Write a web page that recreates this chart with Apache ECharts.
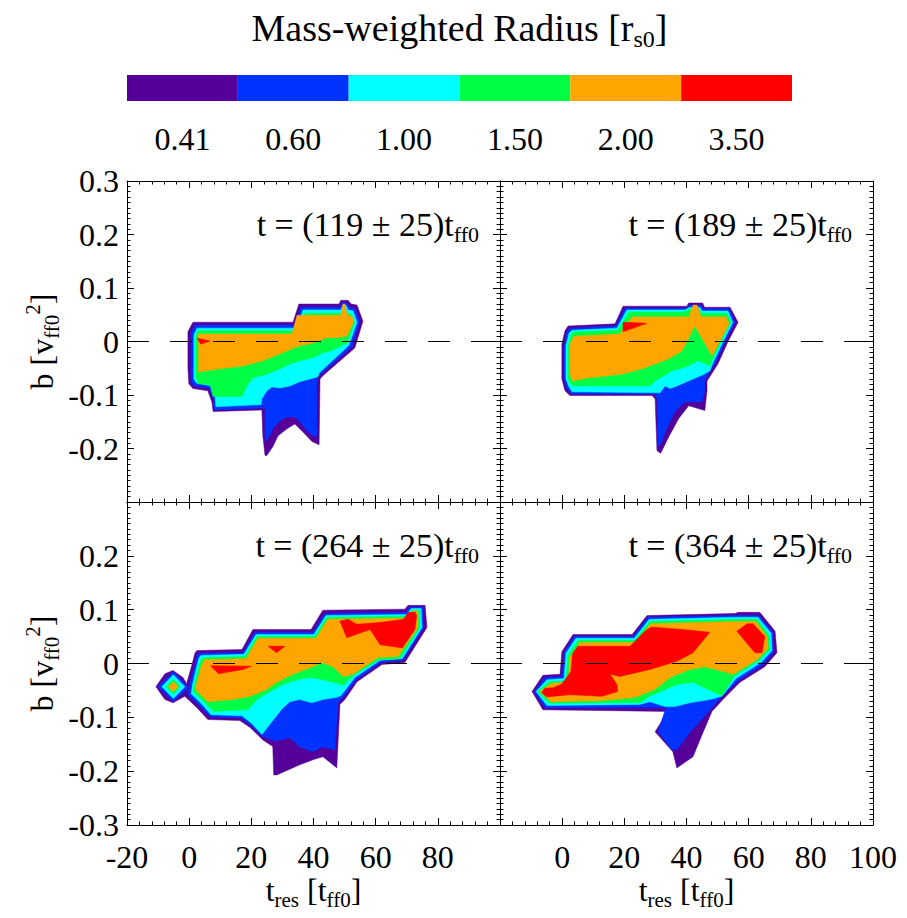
<!DOCTYPE html>
<html><head><meta charset="utf-8">
<script src="https://cdn.jsdelivr.net/npm/echarts@6/dist/echarts.min.js"></script>
<style>html,body{margin:0;padding:0;background:#fff}#c{width:907px;height:918px}</style>
</head><body><div id="c"></div>
<script>
const FONT = "'Liberation Serif','Times New Roman',Times,serif";
const levelLabels = ['0.41','0.60','1.00','1.50','2.00','3.50'];
const levelColors = ['#550099','#0033ff','#00ffff','#00ff44','#ffa500','#ff0000'];
const panelTimes = ['119','189','264','364'];
const panelSpread = '25';
const xMin = -20, xMax = 100, xStep = 20;
const yMin = -0.3, yMax = 0.3, yStep = 0.1;

// ---- contour regions (value >= level), t_res [t_ff0] vs b [v_ff0^2] ----
// top-left  t = 119
const tl_041 = [[[1.2,0.036],[33.4,0.036],[35.3,0.070],[48.2,0.070],[48.8,0.077],[51.1,0.077],[52.1,0.070],[54.0,0.068],[55.9,0.038],[53.3,-0.012],[43.0,-0.064],[42.1,-0.070],[41.8,-0.193],[39.5,-0.187],[36.6,-0.169],[34.0,-0.154],[31.5,-0.163],[28.6,-0.176],[27.0,-0.196],[25.0,-0.213],[24.4,-0.213],[23.7,-0.176],[23.4,-0.128],[7.7,-0.131],[7.3,-0.113],[6.0,-0.092],[1.2,-0.088],[-0.1,-0.079],[-0.4,-0.051],[-0.4,0.018]]];
const tl_060 = [[[1.9,0.031],[34.0,0.031],[35.9,0.064],[48.5,0.064],[49.2,0.072],[50.8,0.072],[51.4,0.064],[53.3,0.062],[54.9,0.038],[52.4,-0.010],[42.4,-0.061],[41.1,-0.068],[41.1,-0.178],[39.8,-0.176],[37.9,-0.167],[35.6,-0.150],[34.0,-0.141],[31.5,-0.141],[29.2,-0.148],[27.0,-0.163],[25.0,-0.185],[24.4,-0.185],[24.4,-0.124],[8.0,-0.128],[7.7,-0.107],[6.4,-0.087],[1.5,-0.083],[0.6,-0.075],[0.6,-0.051],[0.6,0.016]]];
const tl_100 = [[[2.5,0.025],[34.7,0.025],[36.6,0.059],[48.8,0.059],[49.5,0.068],[50.4,0.068],[51.1,0.059],[52.7,0.057],[54.0,0.036],[51.4,-0.007],[41.8,-0.059],[41.4,-0.066],[38.9,-0.070],[35.6,-0.075],[32.4,-0.083],[29.2,-0.087],[26.6,-0.085],[25.0,-0.092],[23.4,-0.107],[23.1,-0.118],[8.6,-0.122],[8.3,-0.103],[7.0,-0.083],[2.2,-0.077],[1.5,-0.070],[1.5,0.012]]];
const tl_150 = [[[2.6,0.020],[35.3,0.020],[37.3,0.053],[49.2,0.053],[49.8,0.062],[50.1,0.062],[50.8,0.053],[52.1,0.051],[53.3,0.036],[50.8,-0.003],[45.3,-0.018],[43.0,-0.021],[41.1,-0.027],[38.2,-0.033],[35.6,-0.036],[32.4,-0.042],[29.2,-0.051],[25.0,-0.061],[20.5,-0.068],[18.6,-0.083],[17.0,-0.103],[7.7,-0.103],[6.7,-0.081],[2.8,-0.079],[2.2,-0.066],[2.2,0.008]]];
const tl_200 = [[[3.0,0.014],[33.1,0.014],[34.7,0.049],[48.8,0.049],[49.5,0.070],[50.1,0.070],[50.8,0.049],[52.4,0.047],[53.0,0.038],[50.8,0.010],[47.5,0.007],[44.3,0.007],[39.8,-0.003],[37.9,-0.005],[34.7,-0.010],[29.2,-0.023],[23.7,-0.036],[17.3,-0.046],[9.9,-0.051],[3.0,-0.057]]];
const tl_350 = [[[2.6,0.006],[6.7,0.001],[3.7,-0.005]]];

// top-right  t = 189
const tr_041 = [[[1.9,0.029],[17.0,0.033],[19.6,0.066],[40.1,0.066],[40.7,0.072],[45.2,0.072],[45.8,0.064],[54.0,0.064],[56.6,0.036],[53.3,-0.001],[50.1,-0.042],[46.6,-0.074],[46.6,-0.092],[45.9,-0.129],[40.7,-0.120],[37.5,-0.144],[34.3,-0.178],[31.7,-0.209],[30.5,-0.204],[29.9,-0.107],[28.9,-0.101],[2.5,-0.101],[0.9,-0.092],[-0.1,-0.070],[-0.1,-0.005],[0.9,0.020]]];
const tr_060 = [[[2.5,0.025],[17.3,0.029],[20.2,0.062],[39.8,0.062],[40.8,0.068],[44.7,0.068],[45.3,0.061],[53.7,0.061],[55.6,0.036],[52.4,-0.001],[49.2,-0.042],[45.9,-0.072],[45.9,-0.092],[45.0,-0.113],[39.5,-0.113],[36.3,-0.131],[33.7,-0.163],[31.5,-0.195],[30.8,-0.195],[30.5,-0.107],[29.9,-0.098],[2.9,-0.098],[1.5,-0.088],[0.6,-0.070],[0.6,-0.007],[1.5,0.018]]];
const tr_100 = [[[3.2,0.021],[17.6,0.025],[20.8,0.059],[39.5,0.059],[41.1,0.064],[44.3,0.064],[45.0,0.057],[53.3,0.057],[54.9,0.036],[51.7,-0.001],[48.5,-0.040],[47.5,-0.055],[45.3,-0.062],[42.1,-0.070],[40.1,-0.075],[36.9,-0.083],[34.7,-0.088],[33.1,-0.083],[31.5,-0.096],[3.2,-0.094],[2.2,-0.085],[1.2,-0.070],[1.2,-0.008],[2.2,0.016]]];
const tr_150 = [[[3.8,0.018],[17.9,0.021],[21.5,0.055],[39.2,0.055],[41.4,0.061],[44.0,0.061],[44.7,0.053],[53.0,0.053],[54.3,0.036],[51.1,-0.001],[48.2,-0.036],[47.8,-0.046],[43.7,-0.036],[40.5,-0.046],[35.3,-0.055],[29.9,-0.074],[28.2,-0.083],[3.5,-0.083],[2.5,-0.077],[1.9,-0.070],[1.9,-0.010],[2.8,0.012]]];
const tr_200 = [[[3.8,0.010],[18.6,0.014],[22.5,0.046],[40.8,0.046],[42.1,0.068],[43.4,0.068],[44.7,0.046],[52.7,0.046],[53.7,0.033],[48.2,-0.027],[42.7,0.029],[38.5,-0.018],[34.0,-0.033],[29.9,-0.042],[25.7,-0.051],[19.2,-0.061],[8.3,-0.068],[3.2,-0.074],[2.5,-0.061],[2.5,-0.005]]];
const tr_350 = [[[19.6,0.036],[27.2,0.034],[19.6,0.018]]];

// bottom-left  t = 264
const bl_041 = [
  [[2.5,0.024],[17.0,0.026],[20.5,0.063],[39.2,0.063],[43.0,0.099],[69.4,0.101],[70.4,0.108],[75.9,0.108],[76.5,0.067],[69.4,0.002],[62.0,-0.002],[54.0,-0.034],[50.1,-0.067],[48.5,-0.076],[47.5,-0.194],[43.0,-0.173],[39.8,-0.179],[35.6,-0.188],[28.2,-0.207],[27.2,-0.207],[26.9,-0.154],[23.7,-0.142],[19.6,-0.119],[16.3,-0.106],[6.0,-0.104],[2.5,-0.082],[-1.4,-0.061],[-0.7,-0.035],[0.9,-0.002],[1.9,0.020]],
  [[-10.7,-0.043],[-7.8,-0.019],[-5.2,-0.013],[-2.0,-0.026],[0.3,-0.048],[-1.4,-0.061],[-5.2,-0.073],[-7.8,-0.067]]
];
const bl_060 = [
  [[3.2,0.019],[17.3,0.020],[21.2,0.058],[39.8,0.058],[43.7,0.093],[69.7,0.095],[71.0,0.105],[75.2,0.105],[75.5,0.067],[68.8,0.006],[61.7,0.002],[53.7,-0.030],[49.5,-0.063],[47.9,-0.073],[46.9,-0.160],[42.7,-0.155],[39.8,-0.164],[35.6,-0.155],[32.4,-0.138],[29.2,-0.142],[27.6,-0.145],[27.0,-0.142],[23.7,-0.136],[19.9,-0.115],[16.7,-0.101],[6.7,-0.099],[3.2,-0.078],[-0.4,-0.058],[0.3,-0.035],[1.9,-0.002],[2.5,0.015]],
  [[-10.0,-0.043],[-5.1,-0.015],[-0.2,-0.045],[-5.1,-0.071]]
];
const bl_100 = [
  [[3.8,0.015],[17.6,0.017],[21.5,0.054],[40.1,0.054],[44.0,0.089],[70.1,0.091],[71.4,0.102],[74.6,0.102],[74.9,0.067],[68.5,0.009],[61.4,0.006],[53.3,-0.026],[48.8,-0.060],[47.2,-0.063],[43.0,-0.067],[39.5,-0.073],[35.6,-0.067],[32.4,-0.071],[29.9,-0.084],[26.6,-0.108],[23.4,-0.132],[20.2,-0.112],[17.0,-0.097],[7.0,-0.095],[3.8,-0.074],[0.6,-0.056],[1.2,-0.035],[2.5,-0.004],[3.2,0.011]],
  [[-8.8,-0.043],[-5.1,-0.021],[-1.4,-0.043],[-5.1,-0.065]]
];
const bl_150 = [
  [[4.4,0.011],[18.0,0.013],[21.8,0.050],[40.5,0.050],[44.3,0.086],[70.4,0.088],[71.7,0.099],[74.2,0.099],[74.2,0.067],[67.8,0.009],[61.1,0.007],[53.0,-0.022],[49.5,-0.041],[47.9,-0.037],[43.0,-0.030],[38.9,-0.026],[34.7,-0.030],[30.2,-0.039],[26.0,-0.052],[21.8,-0.067],[18.9,-0.086],[7.7,-0.089],[4.4,-0.069],[1.2,-0.052],[1.9,-0.035],[3.2,-0.006],[3.8,0.007]],
  [[-7.4,-0.043],[-5.1,-0.029],[-2.8,-0.043],[-5.1,-0.057]]
];
const bl_200 = [
  [[5.1,0.007],[18.3,0.009],[22.1,0.047],[40.8,0.047],[44.6,0.082],[70.4,0.084],[71.7,0.097],[73.6,0.097],[73.6,0.067],[67.2,0.013],[60.7,0.011],[52.7,-0.020],[49.5,-0.024],[46.3,-0.006],[42.7,0.002],[39.8,-0.006],[35.6,-0.015],[31.8,-0.024],[28.2,-0.035],[25.0,-0.048],[19.6,-0.061],[14.1,-0.067],[6.0,-0.071],[1.9,-0.048],[2.5,-0.035],[3.8,-0.007],[4.8,0.006]],
  [[-6.7,-0.043],[-5.1,-0.034],[-3.5,-0.043],[-5.1,-0.052]]
];
const bl_350 = [
  [[6.9,-0.004],[20.1,-0.005],[17.4,-0.011],[9.4,-0.019]],
  [[25.4,0.032],[30.8,0.032],[28.1,0.020]],
  [[48.5,0.079],[51.2,0.082],[53.9,0.073],[61.4,0.076],[68.9,0.082],[70.5,0.095],[72.8,0.095],[73.2,0.088],[72.6,0.063],[68.6,0.029],[61.4,0.035],[58.2,0.063],[50.7,0.048]]
];

// bottom-right  t = 364
const br_041 = [[[-9.7,-0.052],[-6.2,-0.022],[-0.7,-0.020],[-0.1,0.022],[3.5,0.054],[22.5,0.054],[27.3,0.089],[55.6,0.093],[56.6,0.095],[63.6,0.095],[68.5,0.060],[69.1,0.020],[65.2,-0.006],[57.2,-0.035],[51.7,-0.067],[48.2,-0.089],[45.3,-0.128],[42.1,-0.173],[36.9,-0.194],[35.6,-0.164],[29.9,-0.127],[34.0,-0.089],[-6.2,-0.086]]];
const br_060 = [[[-9.0,-0.052],[-5.5,-0.026],[-0.1,-0.024],[0.6,0.020],[3.8,0.050],[22.8,0.050],[27.6,0.086],[55.9,0.089],[63.3,0.089],[67.8,0.058],[68.1,0.022],[64.6,-0.002],[56.6,-0.032],[51.1,-0.063],[47.2,-0.089],[41.1,-0.128],[36.9,-0.160],[35.3,-0.160],[30.8,-0.127],[33.4,-0.082],[-5.5,-0.082]]];
const br_100 = [[[-8.4,-0.052],[-4.9,-0.030],[0.6,-0.028],[1.2,0.019],[4.4,0.047],[23.2,0.047],[28.0,0.082],[56.2,0.086],[63.0,0.086],[67.2,0.056],[67.5,0.024],[64.0,0.002],[55.9,-0.028],[51.4,-0.061],[47.5,-0.067],[41.1,-0.073],[36.3,-0.080],[33.1,-0.080],[28.2,-0.071],[25.0,-0.076],[-4.9,-0.078]]];
const br_150 = [[[-7.8,-0.052],[-4.2,-0.034],[1.2,-0.032],[1.9,0.015],[5.1,0.043],[23.4,0.043],[28.2,0.078],[56.6,0.082],[62.7,0.082],[66.5,0.052],[66.9,0.026],[63.3,0.006],[55.3,-0.024],[51.4,-0.060],[48.2,-0.052],[42.1,-0.035],[36.9,-0.039],[28.2,-0.061],[25.0,-0.073],[-4.2,-0.074]]];
const br_200 = [[[-7.2,-0.052],[-3.6,-0.037],[1.9,-0.035],[2.5,0.011],[5.7,0.039],[23.7,0.039],[28.5,0.074],[56.8,0.078],[62.3,0.078],[65.9,0.050],[66.2,0.028],[62.7,0.007],[55.0,-0.020],[46.0,-0.006],[41.1,-0.011],[34.7,-0.026],[29.9,-0.048],[23.4,-0.063],[12.2,-0.069],[-3.6,-0.071]]];
const br_350 = [
  [[3.3,0.018],[5.0,0.032],[21.8,0.032],[26.6,0.060],[28.6,0.068],[38.8,0.063],[47.5,0.058],[42.1,0.020],[36.9,0.004],[28.2,-0.011],[18.6,-0.024],[15.4,-0.020],[17.6,-0.039],[17.9,-0.052],[12.8,-0.061],[2.5,-0.058],[-5.0,-0.062],[-6.6,-0.054],[-5.6,-0.046],[-2.9,-0.045],[-0.1,-0.038],[2.8,-0.015]],
  [[56.2,0.060],[59.5,0.074],[61.4,0.074],[65.2,0.050],[64.3,0.020],[62.0,0.020]]
];

const panels = [
  [tl_041, tl_060, tl_100, tl_150, tl_200, tl_350],
  [tr_041, tr_060, tr_100, tr_150, tr_200, tr_350],
  [bl_041, bl_060, bl_100, bl_150, bl_200, bl_350],
  [br_041, br_060, br_100, br_150, br_200, br_350]
];

const grids = [
  {left:127, top:181, width:373, height:321},
  {left:500, top:181, width:373, height:321},
  {left:127, top:502, width:373, height:323},
  {left:500, top:502, width:373, height:323},
  {left:127, top:75, width:665, height:26}
];

const nameRich = {
  m: {fontSize: 32, fontFamily: FONT, color: '#000', lineHeight: 40},
  s: {fontSize: 21, fontFamily: FONT, color: '#000', lineHeight: 16, verticalAlign: 'bottom'},
  p: {fontSize: 21, fontFamily: FONT, color: '#000', lineHeight: 16, verticalAlign: 'top'}
};

function fmtY(v) {
  if (Math.abs(v) < 1e-9) return '0';
  return String(+v.toFixed(1));
}

function xAxisFor(g, position, showLabels, hideValue, withName) {
  const ax = {
    type: 'value', gridIndex: g, position: position, min: xMin, max: xMax, interval: xStep,
    axisLine: {show: true, onZero: false, lineStyle: {color: '#000', width: 1}},
    axisTick: {show: true, inside: true, length: 7, lineStyle: {color: '#000', width: 1}},
    minorTick: {show: true, splitNumber: 5, length: 3.5, lineStyle: {color: '#000', width: 1}},
    splitLine: {show: false}, minorSplitLine: {show: false},
    axisLabel: {show: showLabels, margin: 16, color: '#000', fontSize: 32, fontFamily: FONT,
      showMinLabel: true, showMaxLabel: true, hideOverlap: false,
      formatter: v => (Math.abs(v - hideValue) < 1e-9 ? '' : String(v))}
  };
  if (withName) {
    ax.name = '{m|t}{s|res}{m| [t}{s|ff0}{m|]}';
    ax.nameLocation = 'middle';
    ax.nameGap = 45;
    ax.nameTextStyle = {rich: nameRich};
  }
  return ax;
}

function yAxisFor(g, position, showLabels, hideValue, withName) {
  const ax = {
    type: 'value', gridIndex: g, position: position, min: yMin, max: yMax, interval: yStep,
    axisLine: {show: true, onZero: false, lineStyle: {color: '#000', width: 1}},
    axisTick: {show: true, inside: true, length: 7, lineStyle: {color: '#000', width: 1}},
    minorTick: {show: true, splitNumber: 10, length: 3.5, lineStyle: {color: '#000', width: 1}},
    splitLine: {show: false}, minorSplitLine: {show: false},
    axisLabel: {show: showLabels, margin: 8, color: '#000', fontSize: 32, fontFamily: FONT,
      showMinLabel: true, showMaxLabel: true, hideOverlap: false,
      formatter: v => (Math.abs(v - hideValue) < 1e-9 ? '' : fmtY(v))}
  };
  if (withName) {
    ax.name = '{m|b [v}{s|ff0}{p|2}{m|]}';
    ax.nameLocation = 'middle';
    ax.nameRotate = 90;
    ax.nameGap = 65;
    ax.nameTextStyle = {rich: nameRich};
  }
  return ax;
}

const xAxes = [
  xAxisFor(0, 'bottom', false, null, false), xAxisFor(0, 'top', false, null, false),
  xAxisFor(1, 'bottom', false, null, false), xAxisFor(1, 'top', false, null, false),
  xAxisFor(2, 'bottom', true, 100, true),   xAxisFor(2, 'top', false, null, false),
  xAxisFor(3, 'bottom', true, -20, true),   xAxisFor(3, 'top', false, null, false),
  {type: 'category', gridIndex: 4, data: levelLabels, boundaryGap: true,
   axisLine: {show: false}, axisTick: {show: false}, splitLine: {show: false},
   axisLabel: {margin: 22, color: '#000', fontSize: 32, fontFamily: FONT, interval: 0}}
];
const yAxes = [
  yAxisFor(0, 'left', true, -0.3, true),  yAxisFor(0, 'right', false, null, false),
  yAxisFor(1, 'left', false, null, false), yAxisFor(1, 'right', false, null, false),
  yAxisFor(2, 'left', true, 0.3, true),   yAxisFor(2, 'right', false, null, false),
  yAxisFor(3, 'left', false, null, false), yAxisFor(3, 'right', false, null, false),
  {type: 'value', gridIndex: 4, min: 0, max: 1, show: false}
];

function polySeries(ring, color, g) {
  return {
    type: 'custom', coordinateSystem: 'cartesian2d', xAxisIndex: 2 * g, yAxisIndex: 2 * g,
    silent: true, animation: false, clip: false, data: ring, encode: {x: 0, y: 1},
    renderItem: function (params, api) {
      if (params.dataIndex !== 0) return null;
      return {
        type: 'polygon',
        shape: {points: ring.map(p => api.coord(p))},
        style: {fill: color, stroke: color, lineWidth: 0.5}
      };
    }
  };
}

const series = [];
panels.forEach((layers, g) => {
  layers.forEach((rings, li) => {
    rings.forEach(ring => series.push(polySeries(ring, levelColors[li], g)));
  });
});
panels.forEach((layers, g) => {
  series.push({
    type: 'line', xAxisIndex: 2 * g, yAxisIndex: 2 * g, data: [], silent: true, animation: false,
    markLine: {silent: true, symbol: 'none', animation: false, label: {show: false},
      lineStyle: {color: '#000', width: 1, type: [22, 21]}, data: [{yAxis: 0}]}
  });
});
series.push({
  type: 'bar', xAxisIndex: 8, yAxisIndex: 8, barWidth: '100%', barCategoryGap: '0%',
  silent: true, animation: false,
  data: levelLabels.map((l, i) => ({value: 1, itemStyle: {color: levelColors[i]}}))
});

const annRich = {
  m: {fontSize: 34, fontFamily: FONT, fill: '#000', lineHeight: 42},
  s: {fontSize: 22, fontFamily: FONT, fill: '#000', lineHeight: 16, verticalAlign: 'bottom'}
};
const graphics = [{
  type: 'text', x: 459.5, y: 28, silent: true,
  style: {text: '{m|Mass-weighted Radius [r}{s|s0}{m|]}', align: 'center', verticalAlign: 'middle',
    textAlign: 'center', textVerticalAlign: 'middle',
    rich: {m: {fontSize: 38, fontFamily: FONT, fill: '#000', lineHeight: 46},
           s: {fontSize: 24, fontFamily: FONT, fill: '#000', lineHeight: 22, verticalAlign: 'bottom'}}}
}];
panelTimes.forEach((t, g) => {
  const gr = grids[g];
  graphics.push({
    type: 'text', x: gr.left + gr.width - 21, y: gr.top + 43, silent: true,
    style: {text: '{m|t = (' + t + ' \u00b1 ' + panelSpread + ')t}{s|ff0}', align: 'right', verticalAlign: 'middle',
      textAlign: 'right', textVerticalAlign: 'middle', rich: annRich}
  });
});

const chart = echarts.init(document.getElementById('c'), null, {renderer: 'svg', width: 907, height: 918});
chart.setOption({
  animation: false,
  backgroundColor: '#fff',
  textStyle: {fontFamily: FONT, color: '#000'},
  grid: grids.map(g => Object.assign({containLabel: false, outerBoundsMode: 'none'}, g)),
  xAxis: xAxes,
  yAxis: yAxes,
  series: series,
  graphic: graphics
});
</script>
</body></html>
